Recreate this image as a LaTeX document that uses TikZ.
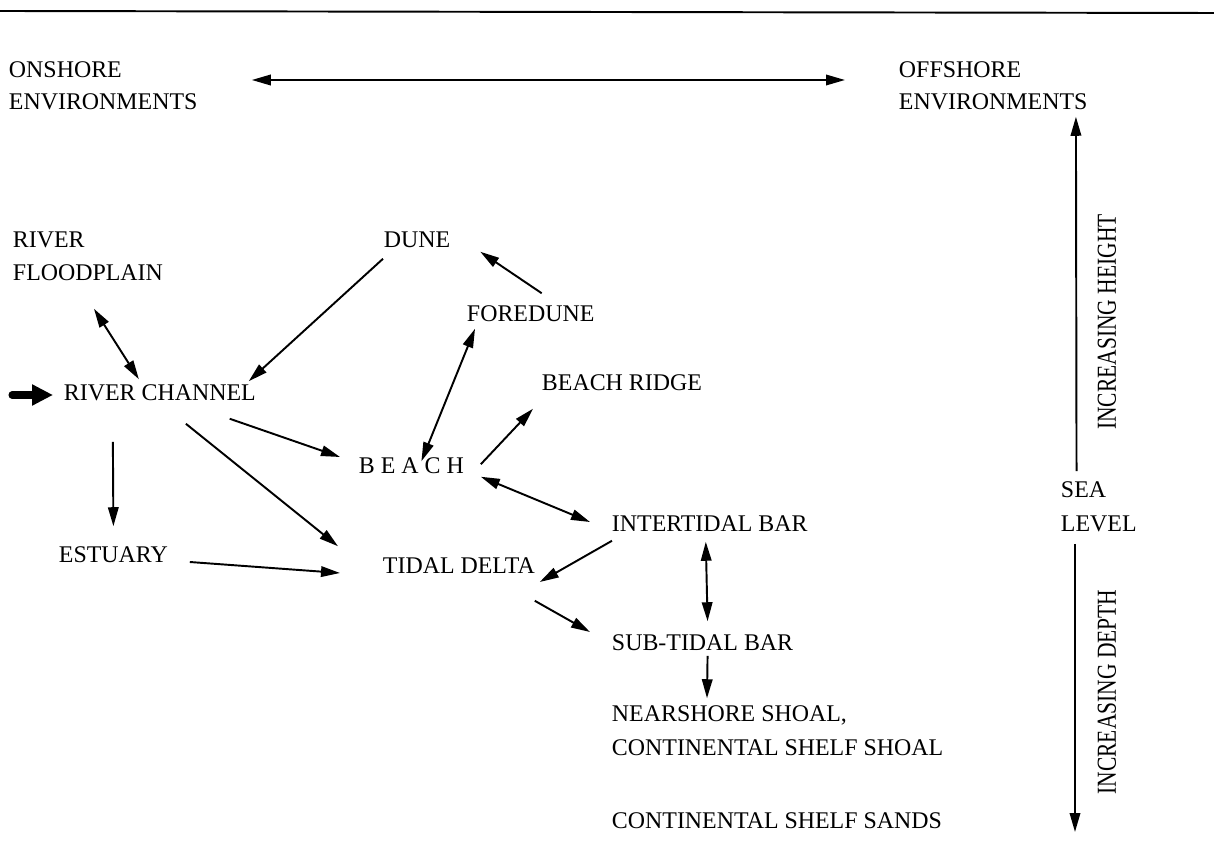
\documentclass[tikz,border=0pt]{standalone}
\usepackage{fontspec}
\setmainfont{Liberation Serif}
\usetikzlibrary{arrows.meta}

\begin{document}
\begin{tikzpicture}[>={Triangle[length=0.38cm, width=0.21cm]}, line width=1.1pt, x=0.02cm, y=-0.02cm]
                \tikzset{env/.style={anchor=west, inner sep=0pt, text height=.66em, text depth=0pt, font=\fontsize{13.6}{19}\selectfont}};
                \useasboundingbox (0, 0) rectangle (1214, 864);
                \draw (0, 11) -- (1214, 13);
                % heading
                \node[env] (on1) at (8, 72) {ONSHORE};
                \node[env] (on2) at (8, 104) {ENVIRONMENTS};
                \node[env] (off1) at (898, 72) {OFFSHORE};
                \node[env] (off2) at (898, 104) {ENVIRONMENTS};
                \draw[<->] ([shift={(129, 8)}]on1.east) -- ([shift={(-53, 8)}]off1.west);
                % environments
                \node[env] (river) at (12, 242) {RIVER};
                \node[env] (flood) at (12, 275) {FLOODPLAIN};
                \node[env] (dune) at (383, 242) {DUNE};
                \node[env] (fore) at (466, 316) {FOREDUNE};
                \node[env] (ridge) at (541, 385) {BEACH RIDGE};
                \node[env] (chan) at (63, 395) {RIVER CHANNEL};
                \node[env] (beach) at (358, 468) {B E A C H};
                \node[env] (inter) at (611, 526) {INTERTIDAL BAR};
                \node[env] (est) at (58, 557) {ESTUARY};
                \node[env] (delta) at (382, 568) {TIDAL DELTA};
                \node[env] (sub) at (611, 645) {SUB-TIDAL BAR};
                \node[env] (near1) at (611, 716) {NEARSHORE SHOAL,};
                \node[env] (near2) at (611, 750) {CONTINENTAL SHELF SHOAL};
                \node[env] (sands) at (611, 823) {CONTINENTAL SHELF SANDS};
                % sediment input
                \coordinate (feed) at (12, 395);
                \draw[line width=4pt, line cap=round, -{Triangle[length=0.42cm, width=0.4cm]}] (feed) -- ([shift={(-10, 0)}]chan.west);
                % links
                \draw[<->] ([shift={(6, 27)}]flood.south) -- ([shift={(-21, -9)}]chan.north);
                \draw[->] ([shift={(0, 10)}]dune.south west) -- ([shift={(-8, -7)}]chan.north east);
                \draw[->] ([shift={(11, -16)}]fore.north) -- ([shift={(29, 3)}]dune.south east);
                \draw[<->] ([shift={(10, 0)}]beach.north) -- ([shift={(9, 6)}]fore.south west);
                \draw[->] ([shift={(16, 3)}]beach.north east) -- ([shift={(-8, 17)}]ridge.south west);
                \draw[->] ([shift={(-27, 17)}]chan.south east) -- ([shift={(-18, -11)}]beach.west);
                \draw[->] ([shift={(26, 22)}]chan.south) -- ([shift={(-44, -15)}]delta.north west);
                \draw[->] ([shift={(-47, 40)}]chan.south) -- ([shift={(0, -24)}]est.north);
                \draw[->] ([shift={(21, 5)}]est.east) -- ([shift={(-42, 5)}]delta.west);
                \draw[<->] ([shift={(16, 2)}]beach.south east) -- ([shift={(-21, -4)}]inter.west);
                \draw[->] ([shift={(1, 8)}]inter.south west) -- ([shift={(4, 14)}]delta.east);
                \draw[->] ([shift={(-1, 26)}]delta.south east) -- ([shift={(-21, -13)}]sub.west);
                \draw[<->] ([shift={(-4, 9)}]inter.south) -- ([shift={(5, -17)}]sub.north);
                \draw[->] ([shift={(5, 4)}]sub.south) -- ([shift={(96, -11)}]near1.north west);
                % sea level axis
                \node[env] (sea) at (1060, 492) {SEA};
                \node[env] (level) at (1060, 526) {LEVEL};
                \coordinate (deep) at (1075, 832);
                \draw[->] ([shift={(-7, -14)}]sea.north) -- ([shift={(-12.5, 6)}]off2.south east);
                \draw[->] ([shift={(15, 11)}]level.south west) -- (deep);
                \node[env, anchor=center, rotate=90] (height) at (1110, 322) {\scalebox{0.9}[1.15]{INCREASING HEIGHT}};
                \node[env, anchor=center, rotate=90] (depth) at (1110, 692) {\scalebox{0.9}[1.15]{INCREASING DEPTH}};
            \end{tikzpicture}
\end{document}
